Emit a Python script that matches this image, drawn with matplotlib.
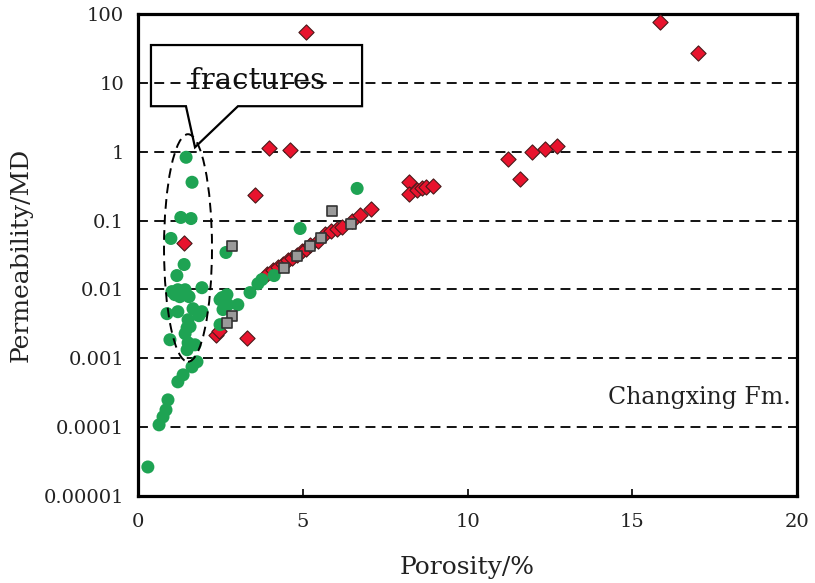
import matplotlib.pyplot as plt
from matplotlib.patches import Ellipse, Polygon

# Changxing Fm. - porowatość vs przepuszczalność
red_por = [5.10, 15.84, 17.0, 3.98, 4.61, 3.55, 1.40, 2.37, 2.46, 3.31,
           3.92, 4.10, 4.25, 4.40, 4.55, 4.67, 4.83, 4.98, 5.10, 5.22,
           5.46, 5.68, 5.86, 6.04, 6.19, 6.49, 6.74, 7.07,
           8.22, 8.22, 8.47, 8.62, 8.74, 8.95,
           11.23, 11.59, 11.96, 12.35, 12.72]
red_perm = [55, 76.5, 27, 1.12, 1.05, 0.232, 0.048, 0.0022, 0.0025, 0.0020,
            0.0170, 0.0194, 0.0215, 0.0238, 0.0272, 0.029, 0.0321, 0.0367, 0.0393, 0.0449,
            0.0513, 0.0628, 0.0694, 0.0742, 0.082, 0.100, 0.119, 0.145,
            0.359, 0.240, 0.274, 0.293, 0.303, 0.313,
            0.775, 0.396, 0.98, 1.08, 1.2]

gray_por = [2.85, 5.89, 6.46, 5.55, 5.22, 4.83, 4.43, 2.85, 2.70]
gray_perm = [0.0434, 0.1355, 0.0877, 0.055, 0.0434, 0.031, 0.0208, 0.00416, 0.00329]

green_por = [1.46, 1.64, 1.30, 1.61, 1.00, 2.67, 1.40, 1.18, 6.65, 4.92,
             1.03, 1.21, 1.43, 1.55, 1.94, 1.27, 1.12, 0.88, 1.21, 1.67,
             1.85, 1.52, 1.94, 1.49, 1.43, 0.97, 1.52, 1.73, 1.49, 1.79,
             1.64, 1.37, 1.21, 0.91, 0.85, 0.76, 0.64, 0.30,
             2.55, 2.49, 2.70, 3.03, 2.73, 2.58, 2.49, 3.40, 3.64, 3.76, 4.13, 1.58]
green_perm = [0.83, 0.36, 0.111, 0.107, 0.055, 0.0344, 0.023, 0.0159, 0.293, 0.0767,
              0.0093, 0.0099, 0.0099, 0.00785, 0.0106, 0.00785, 0.0084, 0.00445, 0.00475, 0.00525,
              0.00416, 0.00363, 0.00475, 0.00278, 0.00228, 0.00186, 0.00168, 0.00157, 0.00133, 0.00089,
              0.00075, 0.000575, 0.000455, 0.000249, 0.000178, 0.000141, 0.000108, 0.0000264,
              0.0076, 0.0071, 0.0084, 0.006, 0.006, 0.0051, 0.00308, 0.009, 0.0121, 0.0139, 0.0159, 0.00288]

y_ticks = [1e-5, 1e-4, 1e-3, 1e-2, 1e-1, 1, 10, 100]
y_labels = ["0.00001", "0.0001", "0.001", "0.01", "0.1", "1", "10", "100"]
x_ticks = [0, 5, 10, 15, 20]

plt.rcParams['font.family'] = ['DejaVu Serif']

fig = plt.figure(figsize=(8.15, 5.83), dpi=100)
ax = fig.add_axes([0.1693, 0.1492, 0.8087, 0.8268])

ax.set_yscale('log')
ax.set_xlim(0, 20)
ax.set_ylim(1e-5, 100)

for yv in y_ticks[1:-1]:
    ax.axhline(yv, color='black', lw=1.3, ls=(0, (5.5, 3.5)), zorder=1)

ax.scatter(red_por, red_perm, marker='D', s=60, color='#e8132d', edgecolors='#4a1a1a', linewidths=0.8, zorder=3)
ax.scatter(green_por, green_perm, marker='o', s=88, color='#1ea353', edgecolors='none', zorder=4)
ax.scatter(gray_por, gray_perm, marker='s', s=52, color='#9a9a9a', edgecolors='#333333', linewidths=1.2, zorder=5)

ax.set_yticks(y_ticks)
ax.set_yticklabels(y_labels)
ax.yaxis.set_minor_locator(plt.NullLocator())
ax.set_xticks(x_ticks)
ax.tick_params(axis='y', length=0, labelsize=14, pad=10, labelcolor='#222222')
ax.tick_params(axis='x', direction='in', length=5, width=1.2, labelsize=14, pad=12, labelcolor='#222222')

for sp in ax.spines.values():
    sp.set_linewidth(2.3)

ax.set_xlabel("Porosity/%", fontsize=18, color='#222222', labelpad=18)
ax.set_ylabel("Permeability/MD", fontsize=18, color='#222222', labelpad=8)

# elipsa "fractures" i dymek
ell = Ellipse((0.0759, 0.5146), 0.0728, 0.472, transform=ax.transAxes, fill=False,
              ls=(0, (5, 3)), lw=1.4, color='black', zorder=6)
ax.add_patch(ell)

dymek = [(0.0197, 0.9356), (0.340, 0.9356), (0.340, 0.8087), (0.1517, 0.8087),
         (0.0865, 0.7235), (0.0728, 0.8087), (0.0197, 0.8087)]
ax.add_patch(Polygon(dymek, closed=True, fill=False, lw=1.6, edgecolor='black',
                     transform=ax.transAxes, zorder=6))
ax.text(0.1806, 0.862, "fractures", transform=ax.transAxes, ha='center', va='center',
        fontsize=21, color='#111111', zorder=7)

ax.text(0.99, 0.204, "Changxing Fm.", transform=ax.transAxes, ha='right', va='center',
        fontsize=17, color='#222222')

plt.savefig("out.png", dpi=100)
plt.close()
